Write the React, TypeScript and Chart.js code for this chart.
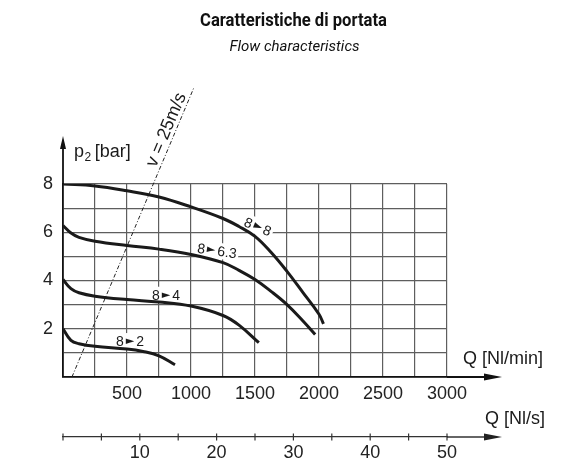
import { useEffect, useRef } from "react";
import { Chart, registerables } from "chart.js";

Chart.register(...registerables);

const FONT = '"Liberation Sans", Arial, sans-serif';
const TITLE_FONT = 'Roboto, "Liberation Sans", sans-serif';

// Titles
const chartTitle = "Caratteristiche di portata";
const chartSubtitle = "Flow characteristics";

// Axis tick labels
const flowTicksNlMin = [500, 1000, 1500, 2000, 2500, 3000];
const pressureTicks = [2, 4, 6, 8];
const flowTicksNlS = [10, 20, 30, 40, 50];

// Curve 8 -> 8 bar
const q88 = [0, 250, 500, 750, 1000, 1250, 1375, 1500, 1625, 1750, 1875, 2000, 2035];
const p88 = [8.0, 7.92, 7.72, 7.46, 7.05, 6.57, 6.24, 5.83, 5.17, 4.38, 3.5, 2.6, 2.2];
// Curve 8 -> 6.3 bar
const q863 = [0, 60, 125, 250, 500, 750, 1000, 1250, 1375, 1500, 1625, 1750, 1875, 1970];
const p863 = [6.28, 5.98, 5.79, 5.63, 5.45, 5.3, 5.08, 4.74, 4.42, 4.04, 3.55, 3.0, 2.32, 1.76];
// Curve 8 -> 4 bar
const q84 = [0, 62, 125, 250, 500, 750, 1000, 1250, 1375, 1530];
const p84 = [4.04, 3.66, 3.49, 3.35, 3.21, 3.11, 2.94, 2.55, 2.15, 1.42];
// Curve 8 -> 2 bar
const q82 = [0, 62, 125, 250, 500, 625, 750, 875];
const p82 = [2.0, 1.52, 1.38, 1.27, 1.16, 1.06, 0.88, 0.51];
// Velocity limit line v = 25 m/s
const qVelocity = [70, 1023];
const pVelocity = [0, 12];

// Curve label texts
const curveFrom = ["8", "8", "8", "8"];
const curveTo = ["8", "6.3", "4", "2"];

// annotation placement (in data units) and rotation
const labelPlacement = [
  { q: 1523, p: 6.24, rot: 22 },
  { q: 1203, p: 5.24, rot: 8 },
  { q: 805, p: 3.41, rot: 0 },
  { q: 523, p: 1.49, rot: 0 },
];

const toPoints = (xs: number[], ys: number[]) => xs.map((x, i) => ({ x, y: ys[i] }));

const ARROW_FONT = `11px "DejaVu Sans", sans-serif`;

function drawCurveLabels(chart: any, background: boolean) {
  const { ctx, scales } = chart;
  const xs = scales.x;
  const ys = scales.y;
  labelPlacement.forEach((pl, i) => {
    const px = xs.getPixelForValue(pl.q);
    const py = ys.getPixelForValue(pl.p);
    ctx.save();
    ctx.translate(px, py);
    ctx.rotate((pl.rot * Math.PI) / 180);
    ctx.font = `14px ${FONT}`;
    const wa = ctx.measureText(curveFrom[i]).width;
    const wb = ctx.measureText(curveTo[i]).width;
    ctx.font = ARROW_FONT;
    const wt = ctx.measureText("\u25BA").width;
    const gap = 2;
    const total = wa + gap + wt + gap + wb;
    const x0 = -total / 2;
    if (background) {
      ctx.fillStyle = "#fff";
      ctx.fillRect(x0 - 2, -8, total + 4, 16);
    } else {
      ctx.fillStyle = "#1a1a1a";
      ctx.textAlign = "left";
      ctx.textBaseline = "alphabetic";
      ctx.font = `14px ${FONT}`;
      ctx.fillText(curveFrom[i], x0, 5);
      ctx.fillText(curveTo[i], x0 + wa + gap + wt + gap, 5);
      ctx.font = ARROW_FONT;
      ctx.textBaseline = "middle";
      ctx.fillText("\u25BA", x0 + wa + gap, 0);
    }
    ctx.restore();
  });
}

function fitText(ctx: any, text: string, cx: number, cy: number, width: number) {
  const w = ctx.measureText(text).width;
  ctx.save();
  ctx.translate(cx, cy);
  ctx.scale(width / w, 1);
  ctx.fillText(text, 0, 0);
  ctx.restore();
}

const decor = {
  id: "decor",
  beforeDatasetsDraw(chart: any) {
    drawCurveLabels(chart, true);
  },
  afterDatasetsDraw(chart: any) {
    const { ctx, chartArea: ca, scales, width } = chart;
    const xs = scales.x;
    const ys = scales.y;
    const x2 = scales.x2;
    ctx.save();

    // titles
    ctx.fillStyle = "#111";
    ctx.textAlign = "center";
    ctx.textBaseline = "middle";
    ctx.font = `bold 18px ${TITLE_FONT}`;
    fitText(ctx, chartTitle, width / 2, 21, 187);
    ctx.font = `italic 15px ${TITLE_FONT}`;
    fitText(ctx, chartSubtitle, width / 2 + 1, 47, 130);

    ctx.fillStyle = "#111";
    ctx.strokeStyle = "#111";

    // y axis extension + arrow
    ctx.lineWidth = 1.8;
    ctx.beginPath();
    ctx.moveTo(ca.left, ca.top);
    ctx.lineTo(ca.left, ca.top - 36);
    ctx.stroke();
    ctx.beginPath();
    ctx.moveTo(ca.left - 3, ca.top - 35);
    ctx.lineTo(ca.left + 3, ca.top - 35);
    ctx.lineTo(ca.left, ca.top - 48);
    ctx.closePath();
    ctx.fill();

    // x axis extension + arrow
    ctx.beginPath();
    ctx.moveTo(ca.right, ca.bottom);
    ctx.lineTo(ca.right + 38, ca.bottom);
    ctx.stroke();
    ctx.beginPath();
    ctx.moveTo(ca.right + 37, ca.bottom - 3.5);
    ctx.lineTo(ca.right + 37, ca.bottom + 3.5);
    ctx.lineTo(ca.right + 55, ca.bottom);
    ctx.closePath();
    ctx.fill();

    // secondary axis (Nl/s): extension, arrow and minor ticks
    const y2 = x2.top;
    ctx.strokeStyle = "#333";
    ctx.fillStyle = "#222";
    ctx.lineWidth = 1.3;
    ctx.beginPath();
    ctx.moveTo(ca.right, y2);
    ctx.lineTo(ca.right + 38, y2);
    ctx.stroke();
    ctx.beginPath();
    ctx.moveTo(ca.right + 37, y2 - 3.5);
    ctx.lineTo(ca.right + 37, y2 + 3.5);
    ctx.lineTo(ca.right + 55, y2);
    ctx.closePath();
    ctx.fill();
    ctx.lineWidth = 1.2;
    for (let v = 0; v <= 50; v += 5) {
      const px = x2.getPixelForValue(v);
      ctx.beginPath();
      ctx.moveTo(px, y2 - 3.5);
      ctx.lineTo(px, y2 + 3.5);
      ctx.stroke();
    }

    // axis titles
    ctx.fillStyle = "#1a1a1a";
    ctx.textBaseline = "alphabetic";
    ctx.textAlign = "left";
    ctx.font = `18px ${FONT}`;
    const tx = ca.left + 11;
    const tb = ca.top - 27;
    ctx.fillText("p", tx, tb);
    const wp = ctx.measureText("p").width;
    ctx.font = `12px ${FONT}`;
    ctx.fillText("2", tx + wp + 0.5, tb + 4);
    const w2 = ctx.measureText("2").width;
    ctx.font = `18px ${FONT}`;
    ctx.fillText("[bar]", tx + wp + w2 + 4, tb);

    ctx.fillText("Q [Nl/min]", ca.right + 16, ca.bottom - 13);
    ctx.textAlign = "right";
    ctx.fillText("Q [Nl/s]", ca.right + 98, y2 - 13);

    // velocity line label
    const ax = xs.getPixelForValue(qVelocity[0]);
    const ay = ys.getPixelForValue(pVelocity[0]);
    const bx = xs.getPixelForValue(qVelocity[1]);
    const by = ys.getPixelForValue(pVelocity[1]);
    const ang = Math.atan2(by - ay, bx - ax);
    const t = 10.1 / pVelocity[1];
    ctx.translate(ax + (bx - ax) * t, ay + (by - ay) * t);
    ctx.rotate(ang);
    ctx.textAlign = "center";
    ctx.font = `18px ${FONT}`;
    ctx.fillText("v = 25m/s", 0, -4);
    ctx.restore();

    drawCurveLabels(chart, false);
  },
};

export default function App() {
  const ref = useRef<HTMLCanvasElement>(null);
  useEffect(() => {
    const canvas = ref.current!;
    const curveStyle = {
      borderColor: "#1a1a1a",
      borderWidth: 3,
      pointRadius: 0,
      tension: 0.4,
      fill: false,
    };
    const chart = new Chart(canvas, {
      type: "line",
      data: {
        datasets: [
          { label: "8 ► 8", data: toPoints(q88, p88), ...curveStyle },
          { label: "8 ► 6.3", data: toPoints(q863, p863), ...curveStyle },
          { label: "8 ► 4", data: toPoints(q84, p84), ...curveStyle },
          { label: "8 ► 2", data: toPoints(q82, p82), ...curveStyle },
          {
            label: "v = 25m/s",
            data: toPoints(qVelocity, pVelocity),
            borderColor: "#222",
            borderWidth: 1,
            borderDash: [4, 2, 1, 2],
            pointRadius: 0,
            tension: 0,
            fill: false,
            clip: false as any,
          },
        ],
      },
      options: {
        responsive: false,
        animation: false,
        layout: { padding: { left: 0, right: 140, top: 184, bottom: 0 } },
        plugins: {
          legend: { display: false },
          tooltip: { enabled: false },
          title: { display: false },
          subtitle: { display: false },
        },
        scales: {
          x: {
            type: "linear",
            position: "bottom",
            min: 0,
            max: 3000,
            weight: 0,
            afterFit: (s: any) => {
              s.height = 60;
            },
            ticks: {
              stepSize: 250,
              autoSkip: false,
              maxRotation: 0,
              padding: 6,
              color: "#222",
              font: { family: FONT, size: 18 },
              callback: (v: any) => (flowTicksNlMin.includes(Number(v)) ? String(v) : ""),
            },
            grid: { color: "#5e5e5e", lineWidth: 1.2, drawTicks: false },
            border: { color: "#111", width: 1.8 },
          },
          x2: {
            type: "linear",
            position: "bottom",
            min: 0,
            max: 50,
            weight: 1,
            afterFit: (s: any) => {
              s.height = 36;
            },
            ticks: {
              stepSize: 10,
              autoSkip: false,
              maxRotation: 0,
              padding: 5.5,
              color: "#222",
              font: { family: FONT, size: 18 },
              callback: (v: any) => (flowTicksNlS.includes(Number(v)) ? String(v) : ""),
            },
            grid: { drawOnChartArea: false, drawTicks: false },
            border: { color: "#333", width: 1.3 },
          },
          y: {
            type: "linear",
            min: 0,
            max: 8,
            afterFit: (s: any) => {
              s.width = 63;
            },
            ticks: {
              stepSize: 1,
              autoSkip: false,
              padding: 10,
              color: "#222",
              font: { family: FONT, size: 18 },
              callback: (v: any) => (pressureTicks.includes(Number(v)) ? String(v) : ""),
            },
            grid: { color: "#5e5e5e", lineWidth: 1.2, drawTicks: false },
            border: { color: "#111", width: 1.8 },
          },
        },
      } as any,
      plugins: [decor],
    });
    return () => chart.destroy();
  }, []);
  return (
    <div style={{ position: "fixed", left: 0, top: 0, width: 587, height: 473, background: "#fff" }}>
      <canvas ref={ref} width={587} height={473} style={{ width: 587, height: 473, display: "block" }} />
    </div>
  );
}
